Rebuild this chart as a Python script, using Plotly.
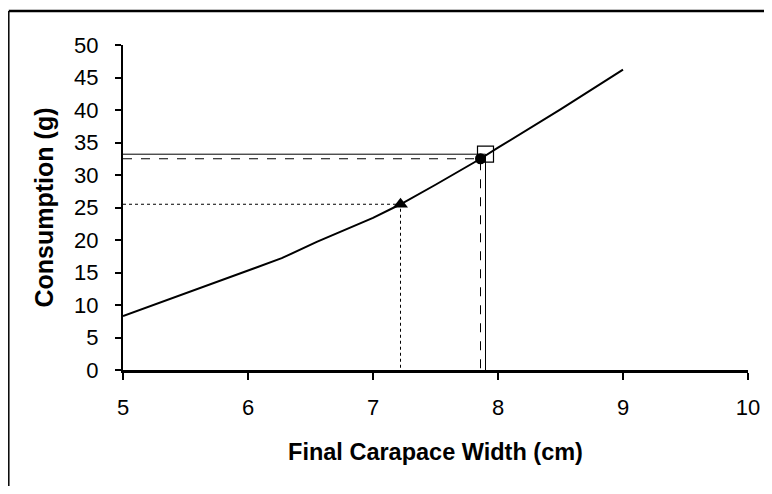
import plotly.graph_objects as go

# Curve data: Final carapace width (cm) vs consumption (g)
curve_x = [5.0, 5.5, 6.0, 6.27, 6.55, 6.75, 7.0, 7.22, 7.5, 7.86, 8.0, 8.5, 9.0]
curve_y = [8.3, 11.8, 15.2, 17.2, 19.7, 21.3, 23.4, 25.5, 28.5, 32.5, 34.2, 40.1, 46.2]

# Marked points
tri_x, tri_y = 7.22, 25.5      # triangle (dotted guide lines)
circ_x, circ_y = 7.86, 32.5    # circle (dashed guide lines)
sq_x, sq_y = 7.90, 33.2        # square (solid guide lines)

x_ticks = [5, 6, 7, 8, 9, 10]
y_ticks = [0, 5, 10, 15, 20, 25, 30, 35, 40, 45, 50]

fig = go.Figure()

def guide(px, py, dash):
    fig.add_trace(go.Scatter(x=[5, px, px], y=[py, py, 0], mode="lines",
                             line=dict(color="black", width=1, dash=dash),
                             showlegend=False, hoverinfo="skip"))

guide(tri_x, tri_y, "dot")
guide(circ_x, circ_y, "dash")
guide(sq_x, sq_y, "solid")

fig.add_trace(go.Scatter(x=curve_x, y=curve_y, mode="lines",
                         line=dict(color="black", width=2), showlegend=False))

fig.add_trace(go.Scatter(x=[sq_x], y=[sq_y], mode="markers",
                         marker=dict(symbol="square-open", size=16, color="black",
                                     line=dict(width=1.2, color="black")),
                         showlegend=False))
fig.add_trace(go.Scatter(x=[circ_x], y=[circ_y], mode="markers",
                         marker=dict(symbol="circle", size=11, color="black"),
                         showlegend=False))
fig.add_trace(go.Scatter(x=[tri_x], y=[tri_y], mode="markers",
                         marker=dict(symbol="triangle-up", size=13, color="black"),
                         showlegend=False))

font_family = "Liberation Sans, Arial, sans-serif"

# page body has an 8px margin; figure placed so the plot area lands at
# screen x 123..748, y 45..370
W, H = 756, 478
L, T = 115, 37
R = W - 740
B = H - 362
PW, PH = W - L - R, H - T - B

def px_to_paper_x(fx):
    return (fx - L) / PW

def px_to_paper_y(fy):
    return (H - B - fy) / PH

frame_left = px_to_paper_x(0.8)
frame_top = px_to_paper_y(3)
frame_right = px_to_paper_x(W + 20)
frame_bottom = px_to_paper_y(H + 20)

fig.update_layout(
    template="none",
    width=W, height=H,
    margin=dict(l=L, r=R, t=T, b=B, autoexpand=False),
    paper_bgcolor="white", plot_bgcolor="white",
    font=dict(family=font_family, color="black"),
    xaxis=dict(range=[5, 10], tickvals=x_ticks, ticktext=[str(v) for v in x_ticks],
               automargin=False,
               showgrid=False, zeroline=False, showline=True, linecolor="black",
               linewidth=3, ticks="outside", ticklen=7, tickwidth=2, tickcolor="black",
               tickfont=dict(size=22), ticklabelstandoff=9,
               title=dict(text="<b>Final Carapace Width (cm)</b>", font=dict(size=23.5),
                          standoff=25)),
    yaxis=dict(range=[0, 50], tickvals=y_ticks, ticktext=[str(v) for v in y_ticks],
               automargin=False,
               showgrid=False, zeroline=False, showline=True, linecolor="black",
               linewidth=2, ticks="outside", ticklen=6, tickwidth=2, tickcolor="black",
               tickfont=dict(size=22), ticklabelstandoff=12,
               title=dict(text="<b>Consumption (g)</b>", font=dict(size=25),
                          standoff=13)),
    shapes=[
        dict(type="line", xref="paper", yref="paper",
             x0=frame_left, x1=frame_right, y0=frame_top, y1=frame_top,
             line=dict(color="black", width=2.5), layer="below"),
        dict(type="line", xref="paper", yref="paper",
             x0=frame_left, x1=frame_left, y0=frame_top, y1=frame_bottom,
             line=dict(color="black", width=1.5), layer="below"),
    ],
)

fig.write_html("out.html")
